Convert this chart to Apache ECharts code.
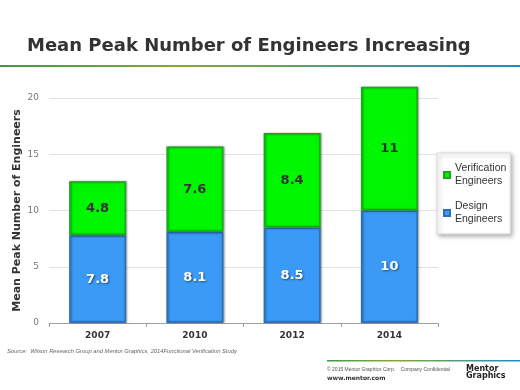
<!DOCTYPE html>
<html><head><meta charset="utf-8">
<script src="https://cdn.jsdelivr.net/npm/echarts@6/dist/echarts.min.js"></script>
<style>html,body{margin:0;padding:0;background:#fff}#c{width:520px;height:390px}</style>
</head><body><div id="c"></div>
<script>
const categories = ['2007', '2010', '2012', '2014'];
const designEngineers = [7.8, 8.1, 8.5, 10];
const verificationEngineers = [4.8, 7.6, 8.4, 11];
const yTicks = [0, 5, 10, 15, 20];

const chart = echarts.init(document.getElementById('c'));
const lineGrad = new echarts.graphic.LinearGradient(0, 0, 1, 0, [
  {offset: 0, color: '#3f9a4a'}, {offset: 0.35, color: '#8aa832'}, {offset: 1, color: '#1a8ccc'}
]);
chart.setOption({
  animation: false,
  backgroundColor: '#fff',
  textStyle: {fontFamily: 'DejaVu Sans'},
  grid: {left: 49, right: 82, top: 98, bottom: 67},
  xAxis: {
    type: 'category', data: categories,
    axisLine: {lineStyle: {color: '#a0a0a0'}},
    axisTick: {show: true, alignWithLabel: false, length: 4, lineStyle: {color: '#a0a0a0'}},
    axisLabel: {color: '#333', fontWeight: 'bold', fontSize: 9, margin: 8, fontFamily: 'Verdana, DejaVu Sans'}
  },
  yAxis: {
    type: 'value', min: yTicks[0], max: yTicks[yTicks.length - 1], interval: 5,
    name: 'Mean Peak Number of Engineers', nameLocation: 'middle', nameGap: 26, nameMoveOverlap: false,
    nameTextStyle: {color: '#333', fontWeight: 'bold', fontSize: 11},
    axisLine: {show: false}, axisTick: {show: false},
    axisLabel: {color: '#777', fontSize: 9, margin: 10},
    splitLine: {lineStyle: {color: '#e2e2e2'}}
  },
  legend: {
    orient: 'vertical', left: 437, top: 153, width: 72,
    data: ['Verification\nEngineers', 'Design\nEngineers'],
    icon: 'rect', itemWidth: 6, itemHeight: 6, itemGap: 12,
    padding: [9, 4, 8, 6],
    backgroundColor: '#fff', borderColor: '#d8d8d8', borderWidth: 1,
    shadowColor: 'rgba(0,0,0,0.3)', shadowBlur: 4, shadowOffsetX: 2, shadowOffsetY: 2,
    textStyle: {color: '#333', fontSize: 10.5, lineHeight: 13, fontFamily: 'Liberation Sans'}
  },
  series: [
    {
      name: 'Design\nEngineers', type: 'bar', stack: 'a', data: designEngineers, barWidth: 57, clip: false,
      itemStyle: {color: '#3a9af5', borderColor: '#2a6fb8', borderWidth: 1.5,
        shadowColor: 'rgba(0,0,0,0.35)', shadowBlur: 2, shadowOffsetX: 1, shadowOffsetY: 0},
      label: {show: true, position: 'inside', color: '#fff', fontWeight: 'bold', fontSize: 13,
        textShadowColor: 'rgba(0,0,0,0.5)', textShadowBlur: 2, textShadowOffsetX: 1, textShadowOffsetY: 1}
    },
    {
      name: 'Verification\nEngineers', type: 'bar', stack: 'a', data: verificationEngineers, barWidth: 57, clip: false,
      itemStyle: {color: '#00f500', borderColor: '#1ca81c', borderWidth: 1.5,
        shadowColor: 'rgba(0,0,0,0.35)', shadowBlur: 2, shadowOffsetX: 1, shadowOffsetY: 0},
      label: {show: true, position: 'inside', color: '#333', fontWeight: 'bold', fontSize: 13}
    }
  ],
  graphic: [
    {type: 'text', left: 27, top: 37, style: {text: 'Mean Peak Number of Engineers Increasing',
      fill: '#333', font: 'bold 18px "DejaVu Sans"'}},
    {type: 'rect', shape: {x: 0, y: 65, width: 520, height: 2}, style: {fill: lineGrad}},
    {type: 'text', left: 7, top: 348, style: {text: 'Source:  Wilson Research Group and Mentor Graphics, 2014Functional Verification Study',
      fill: '#666', font: 'italic 5.8px "Liberation Sans"'}},
    {type: 'rect', shape: {x: 327, y: 360, width: 193, height: 1.5}, style: {fill: lineGrad}},
    {type: 'text', left: 327, top: 367, style: {text: '\u00a9 2015 Mentor Graphics Corp.    Company Confidential',
      fill: '#555', font: '5px "Liberation Sans"'}},
    {type: 'text', left: 327, top: 375, style: {text: 'www.mentor.com', fill: '#333', font: 'bold 6px "DejaVu Sans"'}},
    {type: 'text', left: 466, top: 365, style: {text: 'Mentor\nGraphics', fill: '#222', font: 'bold 8px "DejaVu Sans"',
      lineHeight: 7, align: 'right'}}
  ]
});
</script></body></html>
